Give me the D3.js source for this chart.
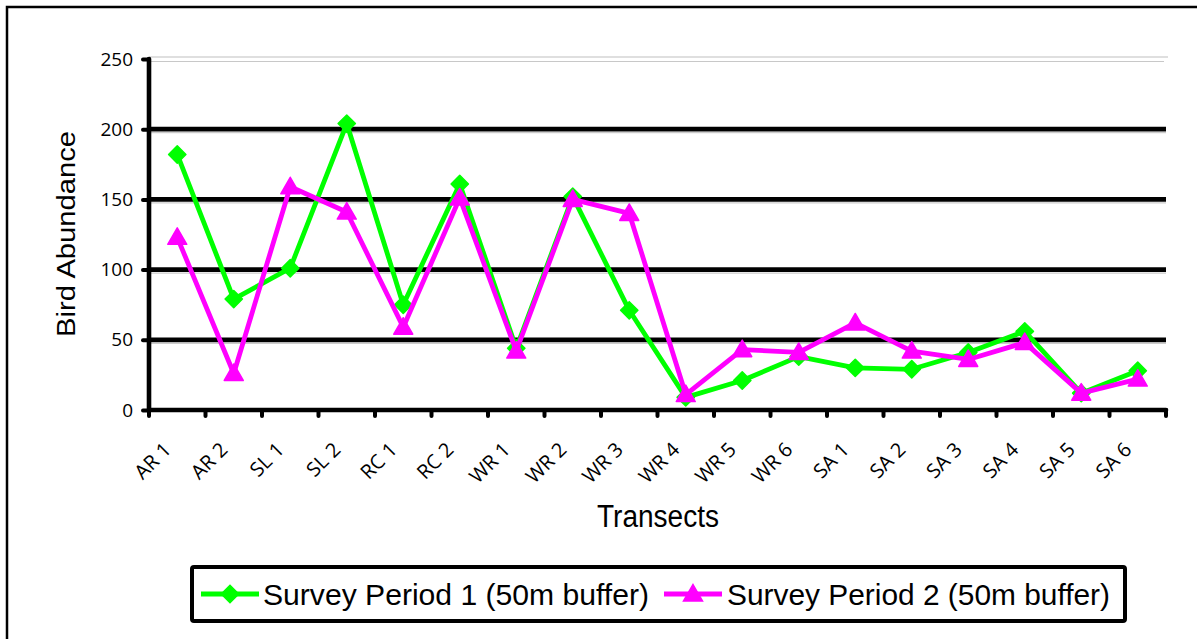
<!DOCTYPE html>
<html>
<head>
<meta charset="utf-8">
<script src="https://cdn.jsdelivr.net/npm/d3@7"></script>
<style>
  html, body { margin: 0; padding: 0; background: #fff; }
  svg { display: block; font-family: "Liberation Sans", Arial, sans-serif; }
</style>
</head>
<body>
<svg id="chart" width="1197" height="639"></svg>
<script>
const categories = ["AR 1","AR 2","SL 1","SL 2","RC 1","RC 2","WR 1","WR 2","WR 3","WR 4","WR 5","WR 6","SA 1","SA 2","SA 3","SA 4","SA 5","SA 6"];
const period1 = [182, 79, 101, 204, 75, 161, 44, 152, 71, 9, 21, 38, 30, 29, 41, 56, 12, 28];
const period2 = [123, 26, 159, 141, 59, 151, 42, 150, 140, 11, 43, 41, 62, 42, 36, 48, 12, 22];
const yTicks = [0, 50, 100, 150, 200, 250];
const seriesNames = ["Survey Period 1 (50m buffer)", "Survey Period 2 (50m buffer)"];
const seriesColors = ["#00FF00", "#FF00FF"];
const yTitle = "Bird Abundance";
const xTitle = "Transects";

const svg = d3.select("#chart");
const tickFont = "'Open Sans', 'Noto Sans', sans-serif";

// outer frame
svg.append("rect").attr("x", 7).attr("y", 7).attr("width", 1300).attr("height", 800)
  .attr("fill", "none").attr("stroke", "#000").attr("stroke-width", 2.5);

const pLeft = 149, pRight = 1166, pTop = 59, pBottom = 410;
const x = d3.scaleBand().domain(categories).range([pLeft, pRight]).padding(0);
const y = d3.scaleLinear().domain([0, 250]).range([pBottom, pTop]);

// gridlines
const grid = svg.append("g");
yTicks.filter(v => v > 0).forEach(v => {
  if (v === 250) {
    grid.append("line").attr("x1", pLeft).attr("x2", pRight + 2).attr("y1", y(v) - 2).attr("y2", y(v) - 2)
      .attr("stroke", "#c0c0c0").attr("stroke-width", 1.2);
    grid.append("line").attr("x1", pLeft).attr("x2", pRight - 2).attr("y1", y(v) + 2.5).attr("y2", y(v) + 2.5)
      .attr("stroke", "#c8c8c8").attr("stroke-width", 1.2);
  } else {
    grid.append("line").attr("x1", pLeft).attr("x2", pRight).attr("y1", y(v) + 3.5).attr("y2", y(v) + 3.5)
      .attr("stroke", "#c0c0c0").attr("stroke-width", 1);
    grid.append("line").attr("x1", pLeft).attr("x2", pRight).attr("y1", y(v)).attr("y2", y(v))
      .attr("stroke", "#000").attr("stroke-width", 4.8);
  }
});

// y axis
const yAxis = d3.axisLeft(y).tickValues(yTicks).tickSize(6).tickPadding(10);
const yg = svg.append("g").attr("transform", `translate(${pLeft},0)`).call(yAxis);
yg.select(".domain").remove();
yg.selectAll(".tick line").attr("stroke", "#000").attr("stroke-width", 4).attr("stroke-linecap", "round");
yg.selectAll(".tick text").attr("font-size", 19).attr("fill", "#000")
  .attr("font-family", tickFont).attr("x", -16);
svg.append("line").attr("x1", pLeft).attr("x2", pLeft).attr("y1", pTop).attr("y2", pBottom)
  .attr("stroke", "#000").attr("stroke-width", 4.6).attr("stroke-linecap", "round");

// x axis
const boundaries = categories.map(c => x(c)).concat([pRight]);
const xg = svg.append("g");
xg.selectAll("line.tk").data(boundaries).join("line").attr("class", "tk")
  .attr("x1", d => d).attr("x2", d => d).attr("y1", pBottom).attr("y2", pBottom + 6)
  .attr("stroke", "#000").attr("stroke-width", 4).attr("stroke-linecap", "round");
svg.append("line").attr("x1", pLeft).attr("x2", pRight).attr("y1", pBottom).attr("y2", pBottom)
  .attr("stroke", "#000").attr("stroke-width", 4.6).attr("stroke-linecap", "round");
xg.selectAll("text.lbl").data(categories).join("text").attr("class", "lbl")
  .attr("transform", d => `translate(${x(d) + x.bandwidth() / 2 - 5},451) rotate(-45)`)
  .attr("text-anchor", "end").attr("font-size", 20).attr("fill", "#000")
  .attr("font-family", tickFont)
  .text(d => d);

// axis titles
svg.append("text").attr("transform", "translate(75,234) rotate(-90)")
  .attr("text-anchor", "middle").attr("font-size", 25).attr("textLength", 206)
  .attr("lengthAdjust", "spacingAndGlyphs").text(yTitle);
svg.append("text").attr("x", 597).attr("y", 527)
  .attr("font-size", 31).attr("textLength", 122).attr("lengthAdjust", "spacingAndGlyphs").text(xTitle);

// series
const line = d3.line().x((d, i) => x(categories[i]) + x.bandwidth() / 2).y(d => y(d));
const diamond = d3.symbol().type(d3.symbolSquare).size(150);
const triangle = "M0,-9.5L9.5,7L-9.5,7Z";

function drawSeries(vals, color, marker) {
  const g = svg.append("g");
  g.append("path").datum(vals).attr("d", line).attr("fill", "none")
    .attr("stroke", color).attr("stroke-width", 4.8).attr("stroke-linejoin", "round");
  g.selectAll("path.m").data(vals).join("path").attr("class", "m")
    .attr("transform", (d, i) => `translate(${x(categories[i]) + x.bandwidth() / 2},${y(d)})` + (marker === "d" ? " rotate(45)" : ""))
    .attr("d", marker === "d" ? diamond() : triangle)
    .attr("fill", color).attr("stroke", color).attr("stroke-width", 1.5).attr("stroke-linejoin", "round");
}
drawSeries(period1, seriesColors[0], "d");
drawSeries(period2, seriesColors[1], "t");

// legend
const lg = svg.append("g");
lg.append("rect").attr("x", 192).attr("y", 567).attr("width", 933).attr("height", 54).attr("rx", 2)
  .attr("fill", "#fff").attr("stroke", "#000").attr("stroke-width", 4);
const legendItems = [
  { x0: 201, x1: 259, tx: 263, tl: 386, marker: "d" },
  { x0: 664, x1: 722, tx: 727, tl: 383, marker: "t" }
];
legendItems.forEach((it, i) => {
  const ly = 594;
  lg.append("line").attr("x1", it.x0).attr("x2", it.x1).attr("y1", ly).attr("y2", ly)
    .attr("stroke", seriesColors[i]).attr("stroke-width", 4.8);
  const cx = (it.x0 + it.x1) / 2;
  lg.append("path").attr("transform", `translate(${cx},${ly})` + (it.marker === "d" ? " rotate(45)" : ""))
    .attr("d", it.marker === "d" ? diamond() : triangle)
    .attr("fill", seriesColors[i]).attr("stroke", seriesColors[i]).attr("stroke-width", 1.5);
  lg.append("text").attr("x", it.tx).attr("y", 605).attr("font-size", 30)
    .attr("textLength", it.tl).attr("lengthAdjust", "spacingAndGlyphs").text(seriesNames[i]);
});
</script>
</body>
</html>
